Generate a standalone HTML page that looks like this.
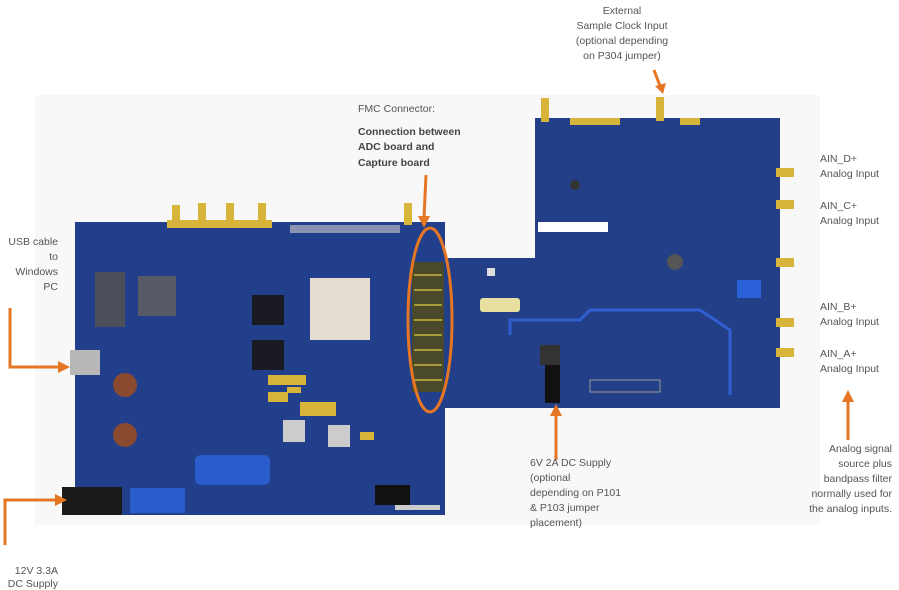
<!DOCTYPE html>
<html><head><meta charset="utf-8"><style>
html,body{margin:0;padding:0;background:#fff;}
svg{display:block;}
text{font-family:"Liberation Sans",sans-serif;font-size:10.5px;fill:#555;}
.b{font-weight:bold;fill:#444;}
</style></head><body>
<svg width="899" height="590" viewBox="0 0 899 590" xmlns="http://www.w3.org/2000/svg">
<rect x="35" y="95" width="785" height="430" fill="#f8f8f9"/>
<rect x="75" y="222" width="370" height="293" fill="#213f8a"/>
<path d="M445 258 H535 V118 H780 V408 H445 Z" fill="#223f88"/>
<g fill="#d8b43a">
<rect x="172" y="205" width="8" height="22"/><rect x="198" y="203" width="8" height="24"/><rect x="226" y="203" width="8" height="24"/><rect x="258" y="203" width="8" height="24"/><rect x="404" y="203" width="8" height="22"/>
<rect x="167" y="220" width="105" height="8"/>
<rect x="541" y="98" width="8" height="24"/><rect x="656" y="97" width="8" height="24"/><rect x="570" y="118" width="50" height="7"/><rect x="680" y="118" width="20" height="7"/>
<rect x="776" y="168" width="18" height="9"/><rect x="776" y="200" width="18" height="9"/><rect x="776" y="258" width="18" height="9"/><rect x="776" y="318" width="18" height="9"/><rect x="776" y="348" width="18" height="9"/>
<rect x="268" y="375" width="38" height="10"/><rect x="268" y="392" width="20" height="10"/><rect x="300" y="402" width="36" height="14"/><rect x="287" y="387" width="14" height="6"/><rect x="360" y="432" width="14" height="8"/>
</g>
<rect x="290" y="225" width="110" height="8" fill="#8a93b0"/>
<rect x="310" y="278" width="60" height="62" fill="#e4dcd0"/>
<rect x="95" y="272" width="30" height="55" fill="#4a4f5a"/>
<rect x="138" y="276" width="38" height="40" fill="#555a66"/>
<rect x="252" y="295" width="32" height="30" fill="#1a1a22"/>
<rect x="252" y="340" width="32" height="30" fill="#1a1a22"/>
<rect x="70" y="350" width="30" height="25" fill="#b8b8b8"/>
<rect x="62" y="487" width="60" height="28" fill="#1a1a1a"/>
<rect x="130" y="488" width="55" height="25" fill="#2a5ccc"/>
<rect x="195" y="455" width="75" height="30" fill="#2a5ccc" rx="6"/>
<rect x="375" y="485" width="35" height="20" fill="#111"/>
<rect x="395" y="505" width="45" height="5" fill="#ccc"/>
<circle cx="125" cy="385" r="12" fill="#8a4a30"/><circle cx="125" cy="435" r="12" fill="#8a4a30"/>
<rect x="283" y="420" width="22" height="22" fill="#ccc"/><rect x="328" y="425" width="22" height="22" fill="#ccc"/>
<rect x="412" y="262" width="32" height="130" fill="#4a4a2a"/>
<g stroke="#c8b840" stroke-width="1.5">
<line x1="414" y1="275" x2="442" y2="275"/><line x1="414" y1="290" x2="442" y2="290"/><line x1="414" y1="305" x2="442" y2="305"/><line x1="414" y1="320" x2="442" y2="320"/><line x1="414" y1="335" x2="442" y2="335"/><line x1="414" y1="350" x2="442" y2="350"/><line x1="414" y1="365" x2="442" y2="365"/><line x1="414" y1="380" x2="442" y2="380"/>
</g>
<rect x="538" y="222" width="70" height="10" fill="#fff"/>
<rect x="487" y="268" width="8" height="8" fill="#ddd"/>
<rect x="480" y="298" width="40" height="14" fill="#e8e0a0" rx="3"/>
<path d="M510 335 V320 H580 L590 310 H700 L730 330 V395" stroke="#2f5fd0" stroke-width="3" fill="none"/>
<rect x="540" y="345" width="20" height="20" fill="#333"/>
<rect x="545" y="365" width="15" height="38" fill="#111"/>
<rect x="590" y="380" width="70" height="12" fill="none" stroke="#999"/>
<circle cx="675" cy="262" r="8" fill="#555"/>
<rect x="737" y="280" width="24" height="18" fill="#2a60d8"/>
<circle cx="575" cy="185" r="5" fill="#333"/>
<g stroke="#e57724" stroke-width="3" fill="none">
<ellipse cx="430" cy="320" rx="22" ry="92"/>
<line x1="426" y1="175" x2="424" y2="218"/>
<line x1="654" y1="70" x2="660" y2="86"/>
<polyline points="10,308 10,367 60,367"/>
<polyline points="5,545 5,500 57,500"/>
<line x1="556" y1="460" x2="556" y2="414"/>
<line x1="848" y1="440" x2="848" y2="400"/>
</g>
<g fill="#e57724">
<polygon points="418,216 430,216 424,228"/>
<polygon points="655,86 666,83 663,94"/>
<polygon points="58,361 58,373 70,367"/>
<polygon points="55,494 55,506 67,500"/>
<polygon points="550,416 562,416 556,404"/>
<polygon points="842,402 854,402 848,390"/>
</g>
<g text-anchor="middle">
<text x="622" y="14">External</text>
<text x="622" y="29">Sample Clock Input</text>
<text x="622" y="44">(optional depending</text>
<text x="622" y="59">on P304 jumper)</text>
</g>
<text x="358" y="112">FMC Connector:</text>
<text x="358" y="135" class="b">Connection between</text>
<text x="358" y="150" class="b">ADC board and</text>
<text x="358" y="166" class="b">Capture board</text>
<g text-anchor="end">
<text x="58" y="245">USB cable</text>
<text x="58" y="260">to</text>
<text x="58" y="275">Windows</text>
<text x="58" y="290">PC</text>
<text x="58" y="574">12V 3.3A</text>
<text x="58" y="587">DC Supply</text>
<text x="892" y="452">Analog signal</text>
<text x="892" y="467">source plus</text>
<text x="892" y="482">bandpass filter</text>
<text x="892" y="497">normally used for</text>
<text x="892" y="512">the analog inputs.</text>
</g>
<text x="530" y="466">6V 2A DC Supply</text>
<text x="530" y="481">(optional</text>
<text x="530" y="496">depending on P101</text>
<text x="530" y="511">&amp; P103 jumper</text>
<text x="530" y="526">placement)</text>
<text x="820" y="162">AIN_D+</text><text x="820" y="177">Analog Input</text>
<text x="820" y="209">AIN_C+</text><text x="820" y="224">Analog Input</text>
<text x="820" y="310">AIN_B+</text><text x="820" y="325">Analog Input</text>
<text x="820" y="357">AIN_A+</text><text x="820" y="372">Analog Input</text>
</svg>
</body></html>
